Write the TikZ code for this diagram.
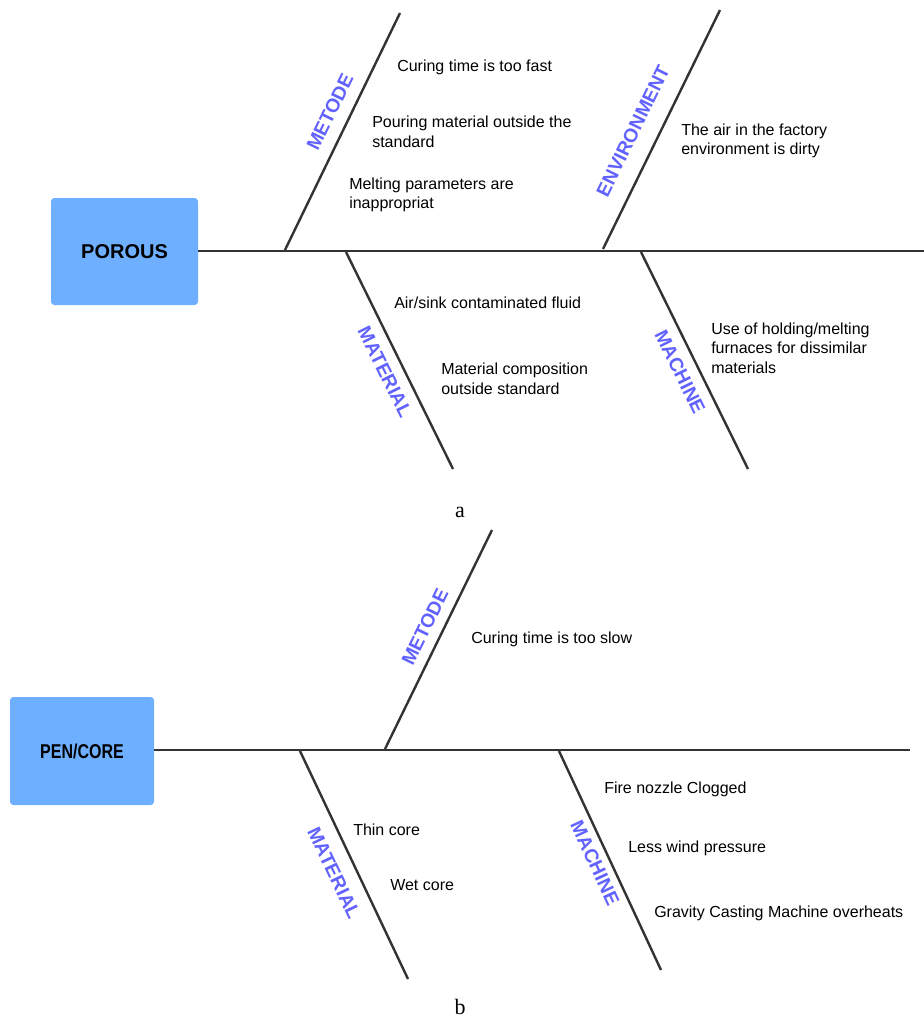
\documentclass[tikz,border=0pt]{standalone}
\usepackage{fontspec}
\setmainfont{Liberation Sans}
\newfontfamily\capfont{Liberation Serif}
\begin{document}
\begin{tikzpicture}[x=0.75pt,y=-0.75pt,
  bone/.style={draw=black!80, line width=1.8pt},
  spine/.style={draw=black!80, line width=1.7pt},
  effect/.style={fill=boxblue, rounded corners=2.5pt, font=\bfseries\fontsize{15}{17}\selectfont,
    inner sep=0pt},
  category/.style={text=labelblue, font=\bfseries\fontsize{14.5}{16}\selectfont, inner sep=0pt},
  cause/.style={anchor=west, align=left, inner sep=0pt, font=\fontsize{12}{14.6}\selectfont},
  caption/.style={font=\capfont\fontsize{16.5}{18}\selectfont, inner sep=0pt}]
\definecolor{boxblue}{RGB}{110,176,255}
\definecolor{labelblue}{RGB}{98,98,255}
\useasboundingbox (0,0) rectangle (924,1021);

% ---------- diagram a ----------
\node[effect, minimum width=110.25pt, minimum height=80.25pt] (porous) at (124.5,251.5) {POROUS};
\coordinate (aEnd) at (924,251);
\draw[spine] (porous.east |- aEnd) -- (aEnd);

\coordinate (aMetRoot) at (285,250);  \coordinate (aMetTip) at (400,13);
\coordinate (aEnvRoot) at (603,249);  \coordinate (aEnvTip) at (720,10);
\coordinate (aMatRoot) at (346,252);  \coordinate (aMatTip) at (453,469);
\coordinate (aMacRoot) at (641,252);  \coordinate (aMacTip) at (748,469);
\draw[bone] (aMetRoot) -- (aMetTip);
\draw[bone] (aEnvRoot) -- (aEnvTip);
\draw[bone] (aMatRoot) -- (aMatTip);
\draw[bone] (aMacRoot) -- (aMacTip);

\node[category, rotate=64] (aMet) at (330,112) {METODE};
\node[category, rotate=64] (aEnv) at (633,131) {ENVIRONMENT};
\node[category, rotate=-63.7] (aMat) at (385,372) {MATERIAL};
\node[category, rotate=-63.7] (aMac) at (680,372) {MACHINE};

\node[cause] (a1) at (397,67) {Curing time is too fast};
\node[cause] (a2) at (372,132) {Pouring material outside the\\standard};
\node[cause] (a3) at (349,195) {Melting parameters are\\inappropriat};
\node[cause] (a4) at (681,141) {The air in the factory\\environment is dirty};
\node[cause] (a5) at (394,303) {Air/sink contaminated fluid};
\node[cause] (a6) at (441,379) {Material composition\\outside standard};
\node[cause] (a7) at (711,348) {Use of holding/melting\\furnaces for dissimilar\\materials};

\node[caption] (capA) at (460,512) {a};

% ---------- diagram b ----------
\node[effect, minimum width=108pt, minimum height=81pt] (pencore) at (82,751)
  {\scalebox{0.8}[1]{PEN/CORE}};
\coordinate (bEnd) at (910,750);
\draw[spine] (pencore.east |- bEnd) -- (bEnd);

\coordinate (bMetRoot) at (385,749);  \coordinate (bMetTip) at (492,530);
\coordinate (bMatRoot) at (300,751);  \coordinate (bMatTip) at (408,979);
\coordinate (bMacRoot) at (559,751);  \coordinate (bMacTip) at (661,970);
\draw[bone] (bMetRoot) -- (bMetTip);
\draw[bone] (bMatRoot) -- (bMatTip);
\draw[bone] (bMacRoot) -- (bMacTip);

\node[category, rotate=64] (bMet) at (425,627) {METODE};
\node[category, rotate=-64.6] (bMat) at (334,873) {MATERIAL};
\node[category, rotate=-65] (bMac) at (595,863) {MACHINE};

\node[cause] (b1) at (471,639) {Curing time is too slow};
\node[cause] (b2) at (353,830) {Thin core};
\node[cause] (b3) at (390,885) {Wet core};
\node[cause] (b4) at (604,789) {Fire nozzle Clogged};
\node[cause] (b5) at (628,848) {Less wind pressure};
\node[cause] (b6) at (654,913) {Gravity Casting Machine overheats};

\node[caption] (capB) at (460,1007) {b};
\end{tikzpicture}
\end{document}
